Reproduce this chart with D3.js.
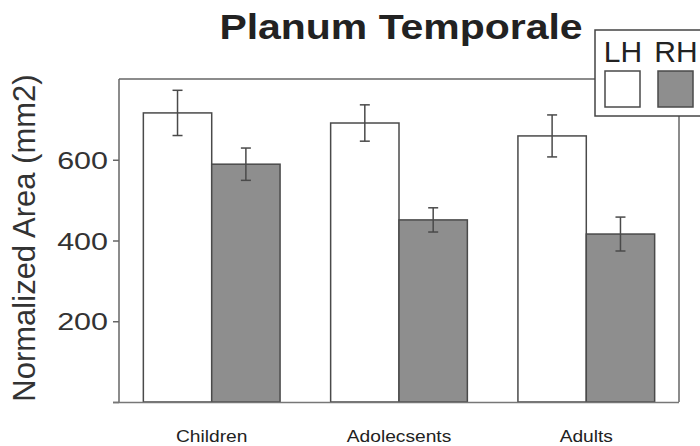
<!DOCTYPE html>
<html>
<head>
<meta charset="utf-8">
<script src="https://cdn.jsdelivr.net/npm/d3@7"></script>
<style>
  html, body { margin: 0; padding: 0; background: #fff; }
  svg { display: block; font-family: "Liberation Sans", Arial, Helvetica, sans-serif; }
</style>
</head>
<body>
<svg id="chart" width="700" height="446"></svg>
<script>
// Planum temporale normalized area by age group, left vs right hemisphere
const groups = ["Children", "Adolecsents", "Adults"];
const hemispheres = ["LH", "RH"];
const lhMean = [716, 691, 659];
const rhMean = [589, 451, 416];
const lhErr = [56, 45, 52];
const rhErr = [40, 30, 42];
const yTicks = [0, 200, 400, 600];

const rows = groups.map((g, i) => ({
  group: g,
  values: [
    { key: "LH", mean: lhMean[i], err: lhErr[i] },
    { key: "RH", mean: rhMean[i], err: rhErr[i] }
  ]
}));

const fill = { LH: "#ffffff", RH: "#8e8e8e" };
const ink = "#4a4a4a";

const svg = d3.select("#chart");
const plotLeft = 119, plotRight = 679, plotTop = 79;

const y = d3.scaleLinear().domain([0, 800]).range([402, plotTop]);
const x0 = d3.scaleBand().domain(groups).range([plotLeft, plotRight])
  .paddingInner(0.27).paddingOuter(0.13);
const x1 = d3.scaleBand().domain(hemispheres).range([0, x0.bandwidth()]);

// plot frame
svg.append("line").attr("x1", plotLeft).attr("x2", 595).attr("y1", plotTop).attr("y2", plotTop)
  .attr("stroke", "#666").attr("stroke-width", 1.5);
svg.append("line").attr("x1", plotRight).attr("x2", plotRight).attr("y1", 116).attr("y2", y(0))
  .attr("stroke", "#666").attr("stroke-width", 1.5);

// bars
const grp = svg.append("g").selectAll("g.grp").data(rows).join("g")
  .attr("class", "grp")
  .attr("transform", d => `translate(${x0(d.group)},0)`);

grp.selectAll("rect").data(d => d.values).join("rect")
  .attr("x", d => x1(d.key))
  .attr("y", d => y(d.mean))
  .attr("width", x1.bandwidth())
  .attr("height", d => y(0) - y(d.mean))
  .attr("fill", d => fill[d.key])
  .attr("stroke", ink)
  .attr("stroke-width", 1.5);

// error bars
const eb = grp.selectAll("g.err").data(d => d.values).join("g").attr("class", "err");
const cx = d => x1(d.key) + x1.bandwidth() / 2;
eb.append("line").attr("x1", cx).attr("x2", cx)
  .attr("y1", d => y(d.mean + d.err)).attr("y2", d => y(d.mean - d.err))
  .attr("stroke", ink).attr("stroke-width", 1.5);
eb.append("line").attr("x1", d => cx(d) - 5).attr("x2", d => cx(d) + 5)
  .attr("y1", d => y(d.mean + d.err)).attr("y2", d => y(d.mean + d.err))
  .attr("stroke", ink).attr("stroke-width", 1.5);
eb.append("line").attr("x1", d => cx(d) - 5).attr("x2", d => cx(d) + 5)
  .attr("y1", d => y(d.mean - d.err)).attr("y2", d => y(d.mean - d.err))
  .attr("stroke", ink).attr("stroke-width", 1.5);

// y axis
const yAxis = svg.append("g").attr("transform", `translate(${plotLeft},0)`)
  .call(d3.axisLeft(y).tickValues(yTicks).tickSize(6).tickFormat(d => d === 0 ? "" : d));
yAxis.select(".domain").attr("d", `M0,${plotTop}V${y(0)}`).attr("stroke", "#666").attr("stroke-width", 1.5);
yAxis.selectAll(".tick line").attr("stroke", "#666").attr("stroke-width", 1.5);
yAxis.selectAll(".tick text")
  .attr("x", 0).attr("dy", "0.36em")
  .attr("font-size", 24).attr("fill", "#333")
  .attr("text-anchor", "end")
  .attr("transform", "translate(-11,0) scale(1.27,1)");

// x baseline
svg.append("line").attr("x1", plotLeft - 6).attr("x2", plotRight)
  .attr("y1", y(0) + 0.5).attr("y2", y(0) + 0.5)
  .attr("stroke", "#777").attr("stroke-width", 1.5);

// x labels
svg.append("g").selectAll("text").data(groups).join("text")
  .attr("transform", d => `translate(${x0(d) + x0.bandwidth() / 2},442) scale(1.2,1)`)
  .attr("text-anchor", "middle")
  .attr("font-size", 16).attr("fill", "#222")
  .text(d => d);

// y title
svg.append("text")
  .attr("transform", "translate(35,238) rotate(-90)")
  .attr("text-anchor", "middle")
  .attr("font-size", 31).attr("fill", "#333")
  .text("Normalized Area (mm2)");

// chart title
svg.append("text")
  .attr("transform", "translate(401,38.5) scale(1.17,1)")
  .attr("text-anchor", "middle")
  .attr("font-size", 35).attr("font-weight", "bold").attr("fill", "#222")
  .text("Planum Temporale");

// legend
const lg = svg.append("g");
lg.append("rect").attr("x", 595).attr("y", 30).attr("width", 120).attr("height", 86)
  .attr("fill", "#fff").attr("stroke", "#444").attr("stroke-width", 1.5);
const lx = { LH: 605, RH: 658 };
lg.selectAll("rect.sw").data(hemispheres).join("rect").attr("class", "sw")
  .attr("x", d => lx[d]).attr("y", 71).attr("width", 35).attr("height", 36)
  .attr("fill", d => fill[d]).attr("stroke", ink).attr("stroke-width", 1.5);
lg.selectAll("text").data(hemispheres).join("text")
  .attr("x", d => lx[d] + 18).attr("y", 62)
  .attr("text-anchor", "middle")
  .attr("font-size", 30).attr("fill", "#222")
  .text(d => d);
</script>
</body>
</html>
